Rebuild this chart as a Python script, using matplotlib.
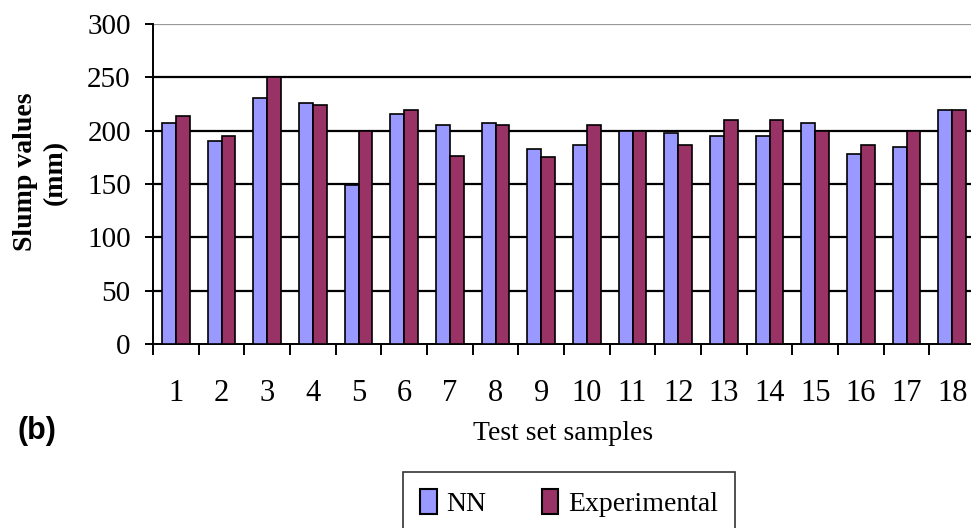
import numpy as np
import matplotlib.pyplot as plt
from matplotlib.patches import Patch

# Slump values (mm)
samples = [str(i) for i in range(1, 19)]
nn = [207, 190, 231, 226, 149, 216, 205, 207, 183, 187, 200, 198, 195, 195, 207, 178, 185, 219]
experimental = [214, 195, 250, 224, 200, 219, 176, 205, 175, 205, 200, 187, 210, 210, 200, 187, 200, 219]

serif = "Liberation Serif"
nn_color = "#9999FF"
exp_color = "#993366"

fig = plt.figure(figsize=(9.71, 5.28), dpi=100)
ax = fig.add_axes([153 / 971, 184 / 528, 822 / 971, 320 / 528])

x = np.arange(len(samples))
w = 0.3
ax.bar(x - w / 2, nn, width=w, color=nn_color, edgecolor="black", linewidth=1.2, zorder=3)
ax.bar(x + w / 2, experimental, width=w, color=exp_color, edgecolor="black", linewidth=1.2, zorder=3)

ax.set_xlim(-0.5, len(samples) - 0.5)
ax.set_ylim(0, 300)

# grid lines
for v in range(50, 300, 50):
    ax.axhline(v, color="black", linewidth=1.6, zorder=1)
ax.axhline(300, color="#999999", linewidth=1.6, zorder=1)

for s in ["top", "right"]:
    ax.spines[s].set_visible(False)
ax.spines["left"].set_linewidth(1.4)
ax.spines["bottom"].set_linewidth(1.4)

ax.set_yticks(range(0, 301, 50))
ax.set_yticklabels([str(v) for v in range(0, 301, 50)], fontfamily=serif, fontsize=21)
ax.tick_params(axis="y", direction="out", length=6, width=1.4, pad=10)

# tick marks on category boundaries, labels at centers
ax.set_xticks(np.arange(-0.5, len(samples), 1.0))
ax.set_xticklabels([])
ax.tick_params(axis="x", which="major", direction="out", length=8, width=1.4)
ax.set_xticks(x, minor=True)
ax.set_xticklabels(samples, minor=True, fontfamily=serif, fontsize=22)
ax.tick_params(axis="x", which="minor", length=0, pad=25)

fig.text(40 / 971, 1 - 172 / 528, "Slump values\n(mm)", rotation=90, ha="center", va="center",
         fontfamily=serif, fontsize=20, fontweight="bold", multialignment="center", linespacing=1.25)
fig.text(563 / 971, 1 - 433 / 528, "Test set samples", ha="center", va="center",
         fontfamily=serif, fontsize=20)
fig.text(37 / 971, 1 - 431 / 528, "(b)", ha="center", va="center",
         fontfamily="Liberation Sans", fontsize=22, fontweight="bold")

handles = [Patch(facecolor=nn_color, edgecolor="black", linewidth=1.5),
           Patch(facecolor=exp_color, edgecolor="black", linewidth=1.5)]
leg = fig.legend(handles, ["NN", "Experimental"], loc="upper center", bbox_to_anchor=(569 / 971, 1 - 472 / 528),
                 ncol=2, frameon=True, fancybox=False, prop={"family": serif, "size": 20},
                 handlelength=0.6, handleheight=1.0, handletextpad=0.35, columnspacing=2.0,
                 borderpad=0.6, borderaxespad=0)
leg.get_frame().set_edgecolor("black")
leg.get_frame().set_linewidth(1.2)

fig.savefig("out.png", dpi=100)
